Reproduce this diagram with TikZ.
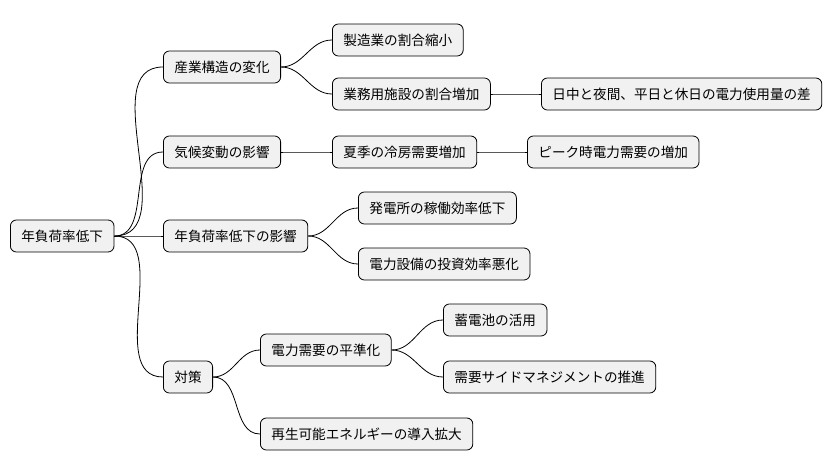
\documentclass[tikz,border=0pt]{standalone}
\usepackage{fontspec}
\setmainfont{Noto Sans CJK JP}
\usetikzlibrary{positioning}
\definecolor{boxfill}{HTML}{F1F1F1}
\begin{document}
\begin{tikzpicture}[x=1pt, y=-1pt, every node/.style={font=\fontsize{13.6}{15}\selectfont}]
  \tikzset{
    topic/.style={draw, fill=boxfill, rounded corners=6pt, line width=0.8pt,
      minimum height=32pt, inner xsep=11pt, anchor=west},
    link/.style={line width=0.8pt, out=0, in=180}
  }
  \useasboundingbox (0,0) rectangle (838,471);
  % root
  \node[topic] (root) at (10,236) {年負荷率低下};
  % first level
  \node[topic] (ind) at (163,67) {産業構造の変化};
  \node[topic] (clim) at (163,152) {気候変動の影響};
  \node[topic] (eff) at (163,236) {年負荷率低下の影響};
  \node[topic] (meas) at (163,377) {対策};
  % second level
  \node[topic] (manu) at (332,40) {製造業の割合縮小};
  \node[topic] (comm) at (332,94) {業務用施設の割合増加};
  \node[topic] (diff) at (541,94) {日中と夜間、平日と休日の電力使用量の差};
  \node[topic] (cool) at (332,152) {夏季の冷房需要増加};
  \node[topic] (peak) at (527,152) {ピーク時電力需要の増加};
  \node[topic] (plant) at (358,208) {発電所の稼働効率低下};
  \node[topic] (inv) at (358,264) {電力設備の投資効率悪化};
  \node[topic] (level) at (260,350) {電力需要の平準化};
  \node[topic] (batt) at (443,320) {蓄電池の活用};
  \node[topic] (dsm) at (443,377) {需要サイドマネジメントの推進};
  \node[topic] (renew) at (260,434) {再生可能エネルギーの導入拡大};
  % connectors
  \foreach \a/\b in {root/ind, root/clim, root/eff, root/meas,
      ind/manu, ind/comm, comm/diff, clim/cool, cool/peak,
      eff/plant, eff/inv, meas/level, meas/renew, level/batt, level/dsm}
    \draw[link] (\a.east) to (\b.west);
\end{tikzpicture}
\end{document}
